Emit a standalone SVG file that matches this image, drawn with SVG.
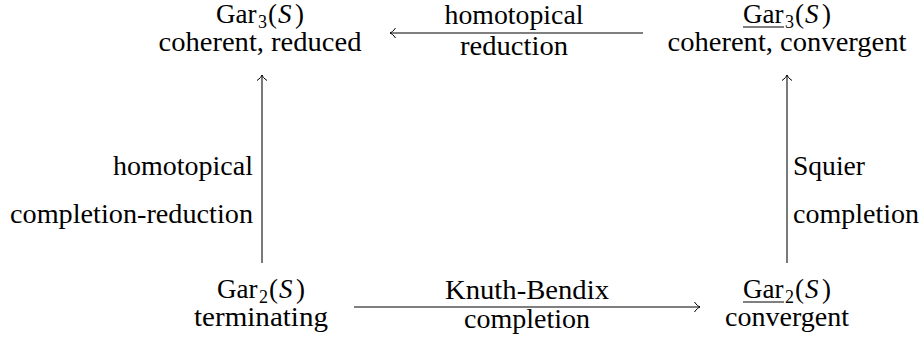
<svg xmlns="http://www.w3.org/2000/svg" width="924" height="341" viewBox="0 0 924 341">
<style>
.line{stroke:#000;stroke-width:1.05;fill:none}
.ul{stroke:#000;stroke-width:1}
</style>
<defs>
<marker id="arr" viewBox="-7 -6 8 12" markerWidth="8" markerHeight="12" refX="0" refY="0" orient="auto" markerUnits="userSpaceOnUse">
<path d="M-5.5,-5 C-3.5,-2 -1.5,-0.6 0,0 C-1.5,0.6 -3.5,2 -5.5,5" fill="none" stroke="#000" stroke-width="1"/>
</marker>
</defs>
<rect width="924" height="341" fill="#fff"/>
<g id="n-gar3">
<text x="216" y="23" style="font-family:'Liberation Serif'" font-size="27">Gar<tspan font-size="18" x="258" dy="5">3</tspan><tspan x="268" dy="-5">(</tspan><tspan font-style="italic" x="278">S</tspan><tspan x="295">)</tspan></text>
<text x="260" y="51" style="font-family:'Liberation Serif'" font-size="27" text-anchor="middle" textLength="203" lengthAdjust="spacingAndGlyphs">coherent, reduced</text>
</g>
<g id="n-gar3u">
<text x="743" y="23" style="font-family:'Liberation Serif'" font-size="27">Gar<tspan font-size="18" x="785" dy="5">3</tspan><tspan x="795" dy="-5">(</tspan><tspan font-style="italic" x="805">S</tspan><tspan x="822">)</tspan></text>
<line class="ul" x1="743" y1="27" x2="784" y2="27"/>
<text x="787" y="51" style="font-family:'Liberation Serif'" font-size="27" text-anchor="middle" textLength="239" lengthAdjust="spacingAndGlyphs">coherent, convergent</text>
</g>
<g id="n-gar2">
<text x="217" y="298" style="font-family:'Liberation Serif'" font-size="27">Gar<tspan font-size="18" x="259" dy="5">2</tspan><tspan x="269" dy="-5">(</tspan><tspan font-style="italic" x="279">S</tspan><tspan x="296">)</tspan></text>
<text x="261" y="326" style="font-family:'Liberation Serif'" font-size="27" text-anchor="middle" textLength="134" lengthAdjust="spacingAndGlyphs">terminating</text>
</g>
<g id="n-gar2u">
<text x="743" y="298" style="font-family:'Liberation Serif'" font-size="27">Gar<tspan font-size="18" x="785" dy="5">2</tspan><tspan x="795" dy="-5">(</tspan><tspan font-style="italic" x="805">S</tspan><tspan x="822">)</tspan></text>
<line class="ul" x1="743" y1="302" x2="784" y2="302"/>
<text x="787" y="326" style="font-family:'Liberation Serif'" font-size="27" text-anchor="middle" textLength="124" lengthAdjust="spacingAndGlyphs">convergent</text>
</g>
<g id="connectors">
<line class="line" x1="643" y1="33" x2="390" y2="33" marker-end="url(#arr)"/>
<text x="514" y="24" style="font-family:'Liberation Serif'" font-size="27" text-anchor="middle" textLength="139" lengthAdjust="spacingAndGlyphs">homotopical</text>
<text x="514" y="55" style="font-family:'Liberation Serif'" font-size="27" text-anchor="middle" textLength="108" lengthAdjust="spacingAndGlyphs">reduction</text>
<line class="line" x1="262" y1="263" x2="262" y2="75" marker-end="url(#arr)"/>
<text x="253" y="175" style="font-family:'Liberation Serif'" font-size="27" text-anchor="end" textLength="140" lengthAdjust="spacingAndGlyphs">homotopical</text>
<text x="253" y="223" style="font-family:'Liberation Serif'" font-size="27" text-anchor="end" textLength="243" lengthAdjust="spacingAndGlyphs">completion-reduction</text>
<line class="line" x1="787" y1="263" x2="787" y2="75" marker-end="url(#arr)"/>
<text x="793" y="175" style="font-family:'Liberation Serif'" font-size="27" textLength="72" lengthAdjust="spacingAndGlyphs">Squier</text>
<text x="793" y="223" style="font-family:'Liberation Serif'" font-size="27" textLength="126" lengthAdjust="spacingAndGlyphs">completion</text>
<line class="line" x1="354" y1="307" x2="700" y2="307" marker-end="url(#arr)"/>
<text x="527" y="299" style="font-family:'Liberation Serif'" font-size="27" text-anchor="middle" textLength="164" lengthAdjust="spacingAndGlyphs">Knuth-Bendix</text>
<text x="527" y="328" style="font-family:'Liberation Serif'" font-size="27" text-anchor="middle" textLength="126" lengthAdjust="spacingAndGlyphs">completion</text>
</g>
</svg>
